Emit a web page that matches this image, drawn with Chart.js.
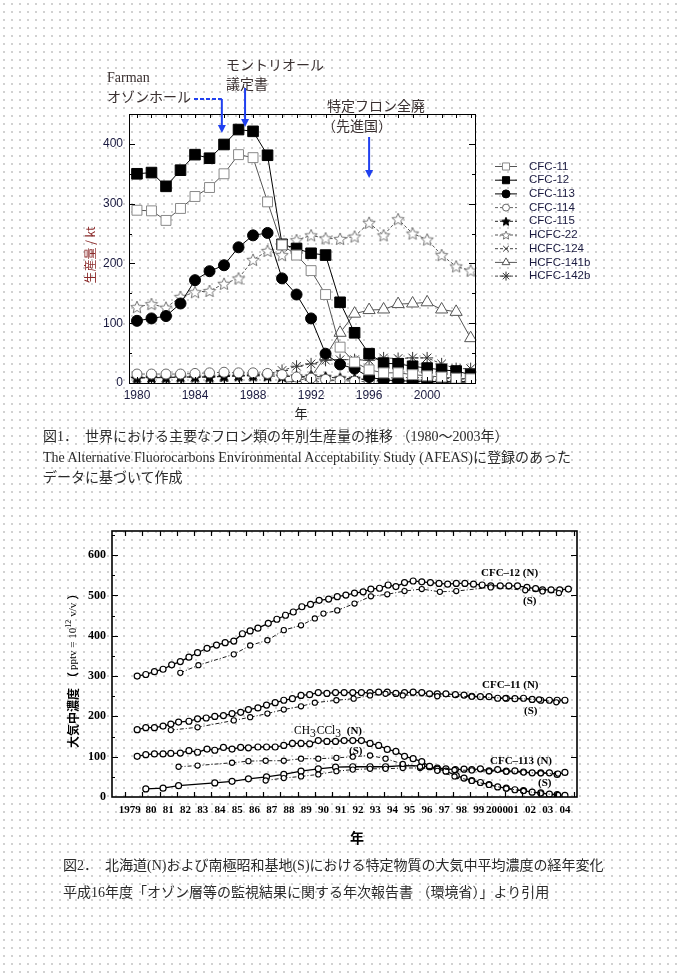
<!DOCTYPE html>
<html>
<head>
<meta charset="utf-8">
<script src="https://cdn.jsdelivr.net/npm/chart.js@4"></script>
<style>
body{margin:0;width:679px;height:975px;position:relative;overflow:hidden;background-color:#fff;
  background-image:radial-gradient(circle,#d0d0d0 0.7px,transparent 1.1px);background-size:8px 8px;
  font-family:"Liberation Serif","Noto Sans CJK JP",serif}
canvas{position:absolute;left:0;top:0}
.cap{position:absolute;font-size:14px;color:#2a2a2a;white-space:nowrap;line-height:16px}
</style>
</head>
<body>
<canvas id="c1" width="679" height="425"></canvas>
<canvas id="c2" width="679" height="860"></canvas>
<div class="cap" style="left:43px;top:429px">図1．　世界における主要なフロン類の年別生産量の推移 （1980～2003年）</div>
<div class="cap" style="left:43px;top:450px">The Alternative Fluorocarbons Environmental Acceptability Study (AFEAS)に登録のあった</div>
<div class="cap" style="left:43px;top:470px">データに基づいて作成</div>
<div class="cap" style="left:63px;top:858px">図2．　北海道(N)および南極昭和基地(S)における特定物質の大気中平均濃度の経年変化</div>
<div class="cap" style="left:63px;top:885px">平成16年度「オゾン層等の監視結果に関する年次報告書 （環境省）」より引用</div>
<script>
// ---- figure 1 : world production (kt) ----
const years1 = [1980,1981,1982,1983,1984,1985,1986,1987,1988,1989,1990,1991,1992,1993,1994,1995,1996,1997,1998,1999,2000,2001,2002,2003];
const cfc11  = [289,288,272,292,312,327,350,382,377,303,231,214,188,148,60,35,22,17,17,14,12,10,8,7];
const cfc12  = [350,352,329,356,382,376,399,424,421,381,232,225,217,214,135,84,49,33,32,28,25,22,20,14];
const cfc113 = [104,108,112,133,172,187,197,227,247,251,175,148,108,49,31,24,10,5,4,3,3,2,2,2];
const cfc114 = [15,15,15,15,16,17,18,17,17,16,14,10,8,6,4,3,2,2,1,1,1,1,1,1];
const cfc115 = [8,9,9,10,10,10,11,12,12,12,11,11,11,10,8,7,5,4,3,3,2,2,2,2];
const hcfc22 = [127,132,126,144,152,154,166,175,206,221,214,239,247,242,241,245,268,247,274,250,240,214,195,188];
const hcfc124 = [null,null,null,null,null,null,null,null,null,null,null,null,1,3,5,6,7,8,9,9,9,8,7,6];
const hcfc141b = [null,null,null,null,null,null,null,null,null,null,1,3,10,45,84,116,122,123,132,133,135,123,119,75];
const hcfc142b = [9,9,9,10,10,10,11,12,13,15,21,28,32,38,39,39,38,42,41,42,42,32,24,24];
const yTicks1 = [0,100,200,300,400];

// ---- figure 2 : atmospheric concentration (pptv), N = Hokkaido, S = Syowa ----
const xLabels2 = ['1979','80','81','82','83','84','85','86','87','88','89','90','91','92','93','94','95','96','97','98','99','2000','01','02','03','04'];
const cfc12N_t = [1979.7,1980.2,1980.7,1981.2,1981.7,1982.2,1982.7,1983.2,1983.75,1984.3,1984.8,1985.3,1985.8,1986.25,1986.7,1987.3,1987.8,1988.3,1988.75,1989.25,1989.75,1990.25,1990.8,1991.3,1991.8,1992.3,1992.8,1993.25,1993.75,1994.25,1994.7,1995.2,1995.7,1996.2,1996.7,1997.2,1997.7,1998.2,1998.7,1999.2,1999.7,2000.2,2000.75,2001.25,2001.75,2002.3,2002.8,2003.2,2003.7,2004.2,2004.7];
const cfc12N_v = [300,304,311,317,328,336,347,358,369,377,383,387,405,412,419,431,441,451,459,472,478,488,491,497,501,506,509,516,518,526,522,532,536,534,532,530,528,530,530,528,526,524,524,524,524,520,517,514,514,514,516];
const cfc12S_t = [1982.2,1983.25,1985.3,1986.25,1987.25,1988.2,1989.2,1990.0,1990.5,1991.3,1992.3,1993.25,1994.2,1995.2,1996.2,1997.25,1998.2,2000.2,2002.2,2003.2,2004.15];
const cfc12S_v = [308,327,354,376,389,414,426,443,455,463,480,498,503,511,516,509,511,520,513,510,506];
const cfc11N_t = [1979.7,1980.2,1980.7,1981.2,1981.65,1982.1,1982.7,1983.2,1983.7,1984.2,1984.7,1985.2,1985.7,1986.15,1986.7,1987.2,1987.7,1988.2,1988.7,1989.2,1989.7,1990.2,1990.7,1991.2,1991.7,1992.2,1992.7,1993.2,1993.7,1994.2,1994.7,1995.2,1995.7,1996.2,1996.65,1997.1,1997.6,1998.15,1998.65,1999.1,1999.6,2000.1,2000.6,2001.1,2001.6,2002.1,2002.6,2003.1,2003.6,2004.05,2004.5];
const cfc11N_v = [167,172,172,176,181,186,188,194,196,200,202,207,210,217,221,228,234,240,244,252,254,259,257,259,259,259,259,259,260,260,257,259,260,259,256,256,256,254,253,250,249,249,245,245,244,245,242,240,240,240,240];
const cfc11S_t = [1981.65,1983.2,1985.3,1986.25,1987.25,1988.2,1989.2,1990.0,1991.25,1992.25,1993.2,1994.1,1995.1,1997.1,1999.1,2001.05,2003.0,2004.0];
const cfc11S_v = [166,173,190,198,207,217,225,234,240,244,252,256,252,250,249,245,242,235];
const mcfN_t = [1979.7,1980.2,1980.7,1981.2,1981.65,1982.2,1982.7,1983.2,1983.75,1984.2,1984.7,1985.2,1985.7,1986.15,1986.7,1987.2,1987.7,1988.2,1988.7,1989.2,1989.7,1990.2,1990.7,1991.2,1991.7,1992.2,1992.7,1993.2,1993.7,1994.2,1994.7,1995.2,1995.7,1996.2,1996.65,1997.1,1997.6,1998.2,1998.65,1999.1,1999.6,2000.1,2000.6,2001.1,2001.6,2002.1,2002.6,2003.1,2003.6,2004.05,2004.5];
const mcfN_v = [101,105,107,107,108,109,115,111,119,116,123,119,123,122,124,124,124,128,133,133,132,140,138,138,140,140,140,133,128,118,113,101,95,88,76,70,64,53,47,41,36,31,25,22,18,16,12,10,7,6,4];
const mcfS_t = [1982.1,1983.2,1985.2,1986.15,1987.15,1988.2,1989.2,1990.2,1991.25,1992.2,1993.2,1994.1,1995.1,1996.1,1997.1,1998.1,1999.1,2000.1,2001.1,2002.1,2003.1,2004.1];
const mcfS_v = [75,78,85,89,90,90,95,95,97,100,103,95,82,75,65,51,40,30,21,15,9,5];
const cfc113N_t = [1980.2,1981.2,1982.1,1984.2,1985.2,1986.15,1987.2,1988.2,1989.2,1990.2,1991.2,1992.2,1993.2,1994.1,1995.1,1996.2,1996.65,1997.1,1997.6,1998.15,1998.65,1999.1,1999.6,2000.1,2000.6,2001.1,2001.6,2002.1,2002.6,2003.1,2003.6,2004.05,2004.5];
const cfc113N_v = [20,22,28,35,39,45,50,56,64,70,74,75,75,75,78,77,75,72,70,68,69,68,70,65,68,64,65,62,60,60,60,56,61];
const cfc113S_t = [1987.15,1988.2,1989.2,1990.2,1991.25,1992.2,1993.2,1994.1,1995.1,1996.1,1997.1,1998.1,1999.1,2000.1,2001.1,2002.1,2003.1,2004.1];
const cfc113S_v = [41,47,51,56,64,68,70,70,72,72,70,67,66,64,63,61,59,58];

const pts = (t, v) => t.map((x, i) => ({x: x, y: v[i]})).filter(p => p.y !== null);
const yr = arr => pts(years1, arr);

function starImg(r, fill, stroke) {
  const s = Math.ceil(r * 2 + 3);
  const c = document.createElement('canvas');
  c.width = c.height = s;
  const g = c.getContext('2d');
  g.beginPath();
  for (let k = 0; k < 10; k++) {
    const rr = k % 2 ? r * 0.45 : r;
    const a = -Math.PI / 2 + k * Math.PI / 5;
    const px = s / 2 + rr * Math.cos(a), py = s / 2 + rr * Math.sin(a) + 0.5;
    if (k) g.lineTo(px, py); else g.moveTo(px, py);
  }
  g.closePath();
  g.fillStyle = fill; g.fill();
  g.strokeStyle = stroke; g.lineWidth = 1; g.stroke();
  return c;
}

const navy = '#1a1a40';
const ds1 = [
  {label: 'CFC-11', data: yr(cfc11), pointStyle: 'rect', pointRadius: 7, pointBackgroundColor: '#fff', pointBorderColor: '#888', borderColor: '#555', lr: 5},
  {label: 'CFC-12', data: yr(cfc12), pointStyle: 'rect', pointRadius: 7.5, pointBackgroundColor: '#000', pointBorderColor: '#000', borderColor: '#000', lr: 5},
  {label: 'CFC-113', data: yr(cfc113), pointStyle: 'circle', pointRadius: 5.5, pointBackgroundColor: '#000', pointBorderColor: '#000', borderColor: '#000', lr: 4},
  {label: 'CFC-114', data: yr(cfc114), pointStyle: 'circle', pointRadius: 5, pointBackgroundColor: '#fff', pointBorderColor: '#666', borderColor: '#666', borderDash: [3, 2], lr: 3.5},
  {label: 'CFC-115', data: yr(cfc115), pointStyle: starImg(6, '#000', '#000'), pointRadius: 6, pointBackgroundColor: '#000', pointBorderColor: '#000', borderColor: '#222', borderDash: [3, 2], legendStyle: starImg(4.5, '#000', '#000'), lr: 4},
  {label: 'HCFC-22', data: yr(hcfc22), pointStyle: starImg(6.5, '#fff', '#777'), pointRadius: 6, pointBackgroundColor: '#fff', pointBorderColor: '#777', borderColor: '#555', borderDash: [3, 2], legendStyle: starImg(4.5, '#fff', '#777'), lr: 4},
  {label: 'HCFC-124', data: yr(hcfc124), pointStyle: 'crossRot', pointRadius: 5, pointBackgroundColor: '#333', pointBorderColor: '#333', borderColor: '#444', borderDash: [3, 2], lr: 4},
  {label: 'HCFC-141b', data: yr(hcfc141b), pointStyle: 'triangle', pointRadius: 7, pointBackgroundColor: '#fff', pointBorderColor: '#555', borderColor: '#555', lr: 4.5},
  {label: 'HCFC-142b', data: yr(hcfc142b), pointStyle: 'star', pointRadius: 6, pointBackgroundColor: '#333', pointBorderColor: '#333', borderColor: '#444', borderDash: [3, 2], lr: 4.5}
];
ds1.forEach(d => { d.borderWidth = 1; d.pointBorderWidth = 1; d.fill = false; d.tension = 0; });

function arrow(ctx, x, y0, y1) {
  ctx.beginPath(); ctx.moveTo(x, y0); ctx.lineTo(x, y1 - 6); ctx.stroke();
  ctx.beginPath(); ctx.moveTo(x - 4, y1 - 8); ctx.lineTo(x + 4, y1 - 8); ctx.lineTo(x, y1); ctx.closePath(); ctx.fill();
}

const deco1 = {
  id: 'deco1',
  afterDraw(chart) {
    const {ctx, chartArea: a, scales: {x, y}} = chart;
    ctx.save();
    // frame + inward ticks
    ctx.strokeStyle = '#000'; ctx.lineWidth = 1;
    ctx.strokeRect(a.left + 0.5, a.top + 0.5, a.right - a.left, a.bottom - a.top);
    ctx.beginPath();
    for (let v = years1[0]; v <= 2003; v++) {
      const px = Math.round(x.getPixelForValue(v)) + 0.5, L = v % 4 === 0 ? 6 : 3;
      ctx.moveTo(px, a.bottom); ctx.lineTo(px, a.bottom - L);
      ctx.moveTo(px, a.top); ctx.lineTo(px, a.top + 4);
    }
    for (let v = 50; v < 450; v += 50) {
      const py = Math.round(y.getPixelForValue(v)) + 0.5, L = v % 100 === 0 ? 6 : 3;
      ctx.moveTo(a.left, py); ctx.lineTo(a.left + L, py);
      ctx.moveTo(a.right, py); ctx.lineTo(a.right - L, py);
    }
    ctx.stroke();

    // legend
    ctx.textBaseline = 'middle';
    chart.data.datasets.forEach((d, i) => {
      const ly = 166.5 + i * 13.7;
      ctx.strokeStyle = d.borderColor; ctx.lineWidth = 1; ctx.setLineDash(d.borderDash || []);
      ctx.beginPath(); ctx.moveTo(495, ly); ctx.lineTo(517, ly); ctx.stroke();
      ctx.setLineDash([]);
      ctx.fillStyle = d.pointBackgroundColor; ctx.strokeStyle = d.pointBorderColor;
      Chart.helpers.drawPoint(ctx, {pointStyle: d.legendStyle || d.pointStyle, radius: d.lr, borderWidth: 1, rotation: 0}, 506, ly);
      ctx.fillStyle = navy; ctx.font = '11.5px "Liberation Sans", sans-serif';
      ctx.fillText(d.label, 529, ly);
    });

    // axis titles
    ctx.fillStyle = '#222'; ctx.font = '13px "Noto Sans CJK JP"'; ctx.textAlign = 'center';
    ctx.fillText('年', 301, 413);
    ctx.save();
    ctx.translate(90, 255); ctx.rotate(-Math.PI / 2);
    ctx.fillStyle = '#8b2a2a'; ctx.font = '12px "Noto Sans CJK JP"';
    ctx.fillText('生産量 / kt', 0, 0);
    ctx.restore();

    // notes and arrows
    ctx.textAlign = 'left'; ctx.fillStyle = '#3a3030';
    ctx.font = '14px "Liberation Serif"';
    ctx.fillText('Farman', 107, 78);
    ctx.font = '14px "Noto Sans CJK JP"';
    ctx.fillText('オゾンホール', 107, 97);
    ctx.fillText('モントリオール', 226, 65);
    ctx.fillText('議定書', 226, 84);
    ctx.fillText('特定フロン全廃', 327, 106);
    ctx.fillText('（先進国）', 322, 126);
    ctx.strokeStyle = '#2040f0'; ctx.fillStyle = '#2040f0'; ctx.lineWidth = 2;
    const fx = x.getPixelForValue(1985.85);
    ctx.setLineDash([4, 2]);
    ctx.beginPath(); ctx.moveTo(194, 99); ctx.lineTo(fx, 99); ctx.stroke();
    ctx.setLineDash([]);
    arrow(ctx, fx, 99, 133);
    arrow(ctx, x.getPixelForValue(1987.45), 88, 127);
    arrow(ctx, x.getPixelForValue(1996), 137, 178);
    ctx.restore();
  }
};

new Chart(document.getElementById('c1'), {
  type: 'line',
  data: {datasets: ds1},
  options: {
    responsive: false, animation: false, devicePixelRatio: 1,
    layout: {padding: {left: 89, right: 204, top: 114, bottom: 12}},
    plugins: {legend: {display: false}, tooltip: {enabled: false}},
    scales: {
      x: {type: 'linear', min: 1979.45, max: 2003.3,
        grid: {display: false, drawTicks: false}, border: {display: false},
        ticks: {stepSize: 4, includeBounds: false, padding: 5, color: navy, maxRotation: 0,
          font: {family: '"Liberation Sans", sans-serif', size: 12}, callback: v => String(v)},
        afterFit: s => { s.height = 30; }},
      y: {min: 0, max: 450,
        grid: {display: false, drawTicks: false}, border: {display: false},
        afterBuildTicks: s => { s.ticks = yTicks1.map(v => ({value: v})); },
        ticks: {padding: 6, color: navy, font: {family: '"Liberation Sans", sans-serif', size: 12}},
        afterFit: s => { s.width = 40; }}
    }
  },
  plugins: [deco1]
});

// ---- figure 2 ----
const yTicks2 = [0,100,200,300,400,500,600];
const nStyle = {borderColor: '#000', borderWidth: 1.3, pointRadius: 3, pointBorderWidth: 1.2, pointBackgroundColor: '#fff', pointBorderColor: '#000', tension: 0, fill: false};
const sStyle = {borderColor: '#000', borderWidth: 0.9, borderDash: [4, 2, 1, 2], pointRadius: 2.6, pointBorderWidth: 1.1, pointBackgroundColor: '#fff', pointBorderColor: '#000', tension: 0, fill: false};
const ds2 = [
  Object.assign({label: 'CFC-12 (S)', data: pts(cfc12S_t, cfc12S_v)}, sStyle),
  Object.assign({label: 'CFC-11 (S)', data: pts(cfc11S_t, cfc11S_v)}, sStyle),
  Object.assign({label: 'CH3CCl3 (S)', data: pts(mcfS_t, mcfS_v)}, sStyle),
  Object.assign({label: 'CFC-113 (S)', data: pts(cfc113S_t, cfc113S_v)}, sStyle),
  Object.assign({label: 'CFC-12 (N)', data: pts(cfc12N_t, cfc12N_v)}, nStyle),
  Object.assign({label: 'CFC-11 (N)', data: pts(cfc11N_t, cfc11N_v)}, nStyle),
  Object.assign({label: 'CH3CCl3 (N)', data: pts(mcfN_t, mcfN_v)}, nStyle),
  Object.assign({label: 'CFC-113 (N)', data: pts(cfc113N_t, cfc113N_v)}, nStyle)
];

const deco2 = {
  id: 'deco2',
  afterDraw(chart) {
    const {ctx, chartArea: a, scales: {x, y}} = chart;
    ctx.save();
    ctx.strokeStyle = '#000'; ctx.lineWidth = 1.6;
    ctx.strokeRect(a.left, a.top, a.right - a.left, a.bottom - a.top);
    ctx.lineWidth = 1.2;
    ctx.beginPath();
    for (let v = 1979; v <= 2005; v++) {
      const px = Math.round(x.getPixelForValue(v)) + 0.5;
      ctx.moveTo(px, a.bottom); ctx.lineTo(px, a.bottom - 5);
      ctx.moveTo(px, a.top); ctx.lineTo(px, a.top + 5);
    }
    for (let v = 50; v <= 650; v += 50) {
      const py = Math.round(y.getPixelForValue(v)) + 0.5, L = v % 100 === 0 ? 6 : 3;
      ctx.moveTo(a.left, py); ctx.lineTo(a.left + L, py);
      if (v % 100 === 0) { ctx.moveTo(a.right, py); ctx.lineTo(a.right - 6, py); }
    }
    ctx.stroke();

    ctx.fillStyle = '#000'; ctx.textAlign = 'center'; ctx.textBaseline = 'middle';
    ctx.font = 'bold 11px "Liberation Serif"';
    xLabels2.forEach((t, i) => {
      const shift = t === '1979' ? -4 : (t === '2000' ? 1 : 0);
      ctx.fillText(t, x.getPixelForValue(1979 + i + 0.5) + shift, 810);
    });
    ctx.font = 'bold 14px "Noto Sans CJK JP"';
    ctx.fillText('年', 357, 838);

    // series labels
    ctx.textAlign = 'left';
    ctx.font = 'bold 11px "Liberation Serif"';
    ctx.fillText('CFC–12 (N)', 481, 573);
    ctx.fillText('(S)', 523, 601);
    ctx.fillText('CFC–11 (N)', 482, 685);
    ctx.fillText('(S)', 524, 711);
    ctx.fillText('CFC–113 (N)', 490, 761);
    ctx.fillText('(S)', 538, 783);
    ctx.fillText('(S)', 349, 751);
    ctx.font = '11.5px "Liberation Serif"';
    let cx = 294;
    [['CH', 0], ['3', 3], ['CCl', 0], ['3', 3]].forEach(([s, dy]) => {
      ctx.fillText(s, cx, 731 + dy); cx += ctx.measureText(s).width + (dy ? 1 : 0);
    });
    ctx.font = 'bold 11px "Liberation Serif"';
    ctx.fillText(' (N)', cx + 2, 731);

    // y title
    ctx.save();
    ctx.translate(73, 748); ctx.rotate(-Math.PI / 2);
    ctx.textAlign = 'left';
    ctx.font = 'bold 12px "Noto Sans CJK JP"';
    ctx.fillText('大気中濃度', 0, 0);
    let tx = 64;
    ctx.fillText('（', tx, 0); tx += 14;
    ctx.font = '11px "Liberation Serif"';
    ctx.fillText('pptv = 10', tx, 0); tx += ctx.measureText('pptv = 10').width;
    ctx.font = '8px "Liberation Serif"';
    ctx.fillText('12', tx, -4); tx += ctx.measureText('12').width + 3;
    ctx.font = '11px "Liberation Serif"';
    ctx.fillText('v/v', tx, 0); tx += ctx.measureText('v/v').width + 3;
    ctx.font = 'bold 12px "Noto Sans CJK JP"';
    ctx.fillText('）', tx, 0);
    ctx.restore();
    ctx.restore();
  }
};

new Chart(document.getElementById('c2'), {
  type: 'line',
  data: {datasets: ds2},
  options: {
    responsive: false, animation: false, devicePixelRatio: 1,
    layout: {padding: {left: 72, right: 102, top: 531, bottom: 43}},
    plugins: {legend: {display: false}, tooltip: {enabled: false}},
    scales: {
      x: {type: 'linear', min: 1978.24, max: 2005.2,
        grid: {display: false, drawTicks: false}, border: {display: false},
        ticks: {display: false},
        afterFit: s => { s.height = 20; }},
      y: {min: 0, max: 660,
        grid: {display: false, drawTicks: false}, border: {display: false},
        afterBuildTicks: s => { s.ticks = yTicks2.map(v => ({value: v})); },
        ticks: {padding: 6, color: '#000', font: {family: '"Liberation Serif", serif', size: 12, weight: 'bold'}},
        afterFit: s => { s.width = 40; }}
    }
  },
  plugins: [deco2]
});
</script>
</body>
</html>
